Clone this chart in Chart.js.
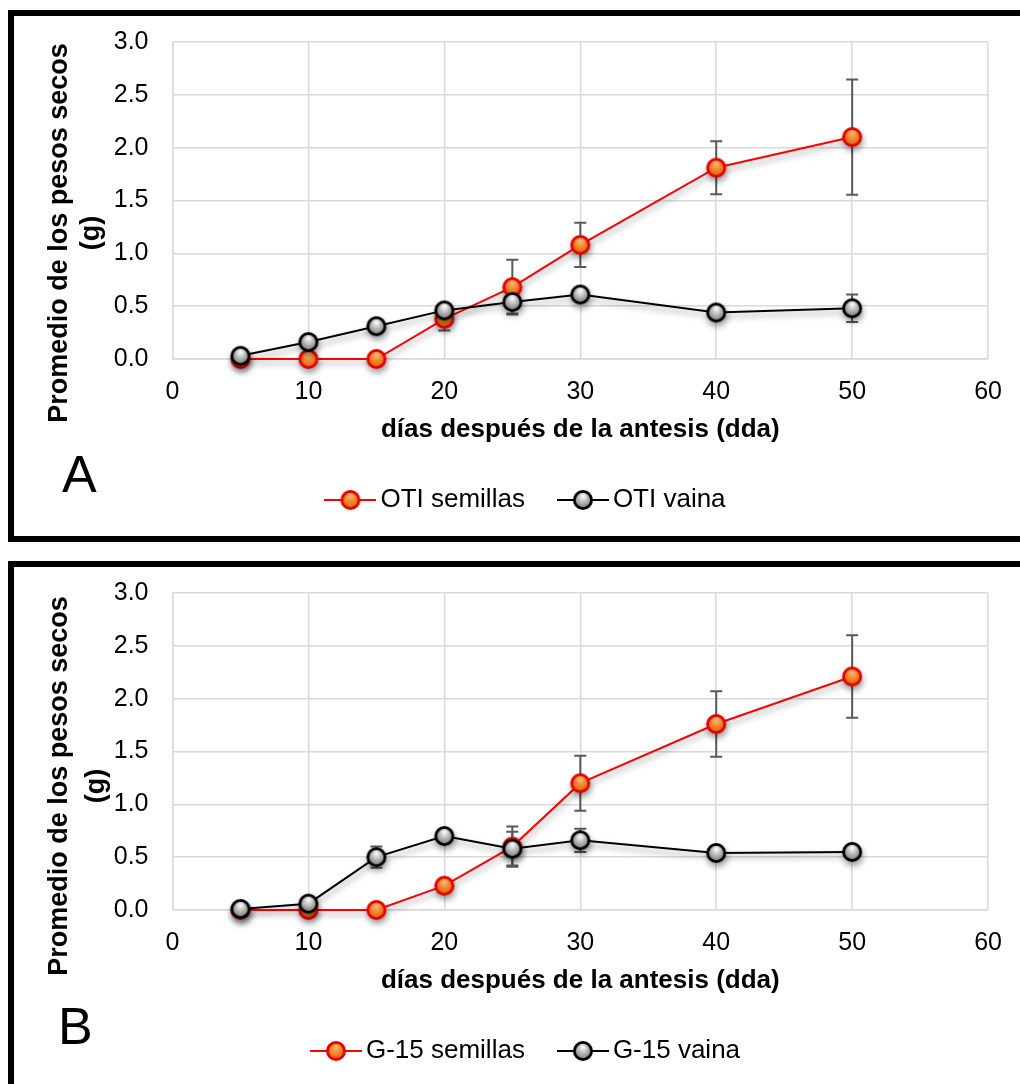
<!DOCTYPE html>
<html>
<head>
<meta charset="utf-8">
<script src="https://cdn.jsdelivr.net/npm/chart.js@4.4.1/dist/chart.umd.min.js"></script>
<style>
  html, body { margin: 0; padding: 0; background: #fff; }
  body { width: 1020px; height: 1084px; overflow: hidden; position: relative; font-family: "Liberation Sans", Arial, sans-serif; }
  .marco { position: absolute; left: 8px; width: 1100px; border: 6px solid #000; box-sizing: border-box; }
  #marcoA { top: 10px; height: 532px; }
  #marcoB { top: 561px; height: 600px; }
  canvas { position: absolute; left: 0; }
  #chartA { top: 0; }
  #chartB { top: 551px; }
  .letra { position: absolute; font-size: 52px; line-height: 52px; color: #000; }
</style>
</head>
<body>
<div class="marco" id="marcoA"></div>
<div class="marco" id="marcoB"></div>
<canvas id="chartA" width="1020" height="540"></canvas>
<canvas id="chartB" width="1020" height="540"></canvas>
<div class="letra" style="left:62px; top:448px;">A</div>
<div class="letra" style="left:58px; top:1000px;">B</div>
<script>
// dias despues de la antesis
let dias = [5, 10, 15, 20, 25, 30, 40, 50];

// panel A (OTI)
let oti_semillas = [0, 0, 0, 0.38, 0.68, 1.08, 1.81, 2.10];
let oti_semillas_err = [0, 0, 0, 0.11, 0.26, 0.21, 0.25, 0.545];
let oti_vaina = [0.03, 0.16, 0.31, 0.46, 0.54, 0.61, 0.44, 0.48];
let oti_vaina_err = [0, 0, 0, 0, 0.11, 0, 0, 0.13];

// panel B (G-15)
let g15_semillas = [0, 0, 0, 0.23, 0.60, 1.20, 1.76, 2.21];
let g15_semillas_err = [0, 0, 0, 0, 0.19, 0.26, 0.31, 0.39];
let g15_vaina = [0.01, 0.06, 0.50, 0.70, 0.58, 0.66, 0.54, 0.55];
let g15_vaina_err = [0, 0, 0.1, 0, 0.16, 0.11, 0, 0];

// ejes
let x_ticks = [0, 10, 20, 30, 40, 50, 60];
let y_ticks = [0, 0.5, 1, 1.5, 2, 2.5, 3];
let titulo_x = 'días después de la antesis (dda)';
let titulo_y = ['Promedio de los pesos secos', '(g)'];

let fuente = '"Liberation Sans", Arial, sans-serif';
Chart.defaults.font.family = fuente;
Chart.defaults.color = '#000';

// marcador tipo esfera (estilo excel)
function esfera(claro, medio, oscuro, borde) {
  let c = document.createElement('canvas');
  c.width = 24; c.height = 24;
  let ctx = c.getContext('2d');
  let g = ctx.createRadialGradient(12, 8, 1, 12, 12, 11);
  g.addColorStop(0, claro);
  g.addColorStop(0.5, medio);
  g.addColorStop(1, oscuro);
  ctx.beginPath();
  ctx.arc(12, 12, 8.6, 0, Math.PI * 2);
  ctx.fillStyle = g;
  ctx.fill();
  ctx.lineWidth = 2.8;
  ctx.strokeStyle = borde;
  ctx.stroke();
  return c;
}

// linea + marcador para la leyenda
function marcaLeyenda(punto, color) {
  let c = document.createElement('canvas');
  c.width = 52; c.height = 24;
  let ctx = c.getContext('2d');
  ctx.strokeStyle = color;
  ctx.lineWidth = 2;
  ctx.beginPath();
  ctx.moveTo(0, 12);
  ctx.lineTo(52, 12);
  ctx.stroke();
  ctx.drawImage(punto, 14, 0);
  return c;
}

let punto_naranja = esfera('#f8b272', '#f07c20', '#c85300', '#e60000');
let punto_gris = esfera('#f5f5f5', '#a8a8a8', '#5e5e5e', '#000000');
let leyenda_naranja = marcaLeyenda(punto_naranja, '#ff0000');
let leyenda_gris = marcaLeyenda(punto_gris, '#000000');

// barras de error, sombra y titulo vertical
let efectos = {
  id: 'efectos',
  beforeDatasetsDraw(chart) {
    let ctx = chart.ctx;
    let sx = chart.scales.x, sy = chart.scales.y;
    ctx.save();
    ctx.strokeStyle = '#595959';
    ctx.lineWidth = 2;
    chart.data.datasets.forEach(ds => {
      ds.errores.forEach((e, i) => {
        if (!e) return;
        let px = sx.getPixelForValue(ds.data[i].x);
        let arriba = sy.getPixelForValue(ds.data[i].y + e);
        let abajo = sy.getPixelForValue(ds.data[i].y - e);
        ctx.beginPath();
        ctx.moveTo(px, arriba); ctx.lineTo(px, abajo);
        ctx.moveTo(px - 6, arriba); ctx.lineTo(px + 6, arriba);
        ctx.moveTo(px - 6, abajo); ctx.lineTo(px + 6, abajo);
        ctx.stroke();
      });
    });
    ctx.restore();
    ctx.save();
    ctx.shadowColor = 'rgba(0,0,0,0.4)';
    ctx.shadowBlur = 6;
    ctx.shadowOffsetX = 1;
    ctx.shadowOffsetY = 4;
  },
  afterDatasetsDraw(chart) {
    chart.ctx.restore();
  },
  afterDraw(chart, args, opts) {
    let ctx = chart.ctx;
    ctx.save();
    ctx.font = 'bold 27px ' + fuente;
    ctx.fillStyle = '#000';
    ctx.textAlign = 'center';
    ctx.textBaseline = 'alphabetic';
    opts.texto.forEach((t, i) => {
      ctx.save();
      ctx.translate(opts.x[i], opts.y);
      ctx.rotate(-Math.PI / 2);
      ctx.fillText(t, 0, 0);
      ctx.restore();
    });
    ctx.restore();
  }
};

function puntos(valores) {
  return dias.map((d, i) => ({ x: d, y: valores[i] }));
}

function draw_chart(id, nombres, semillas, semillas_err, vaina, vaina_err, titulo_pos) {
  let my_datasets = [
    {
      label: nombres[0],
      data: puntos(semillas),
      errores: semillas_err,
      borderColor: '#ff0000',
      borderWidth: 2,
      pointStyle: punto_naranja,
      pointRadius: 10,
      order: 1,
      clip: false,
      leyenda: leyenda_naranja
    },
    {
      label: nombres[1],
      data: puntos(vaina),
      errores: vaina_err,
      borderColor: '#000000',
      borderWidth: 2,
      pointStyle: punto_gris,
      pointRadius: 10,
      order: 0,
      clip: false,
      leyenda: leyenda_gris
    }
  ];

  return new Chart(document.getElementById(id).getContext('2d'), {
    type: 'line',
    data: { datasets: my_datasets },
    plugins: [efectos],
    options: {
      responsive: false,
      animation: false,
      layout: { padding: { left: 67.5, right: 28.5, top: 42, bottom: 17 } },
      scales: {
        x: {
          type: 'linear',
          min: 0,
          max: 60,
          afterBuildTicks: s => { s.ticks = x_ticks.map(v => ({ value: v })); },
          afterFit: s => { s.height = 87; },
          grid: { color: '#d9d9d9', lineWidth: 1.5, drawTicks: false },
          border: { color: '#d9d9d9', width: 1.5 },
          ticks: { font: { size: 25 }, padding: 18, color: '#000' },
          title: {
            display: true,
            text: titulo_x,
            font: { size: 26, weight: 'bold' },
            padding: { top: 0, bottom: 1 },
            color: '#000'
          }
        },
        y: {
          min: 0,
          max: 3,
          afterBuildTicks: s => { s.ticks = y_ticks.map(v => ({ value: v })); },
          afterFit: s => { s.width = 105; },
          grid: { color: '#d9d9d9', lineWidth: 1.5, drawTicks: false },
          border: { color: '#d9d9d9', width: 1.5 },
          ticks: {
            font: { size: 25 },
            padding: 24,
            color: '#000',
            callback: v => v.toFixed(1)
          }
        }
      },
      plugins: {
        tooltip: { enabled: false },
        efectos: { texto: titulo_y, x: titulo_pos.x, y: titulo_pos.y },
        legend: {
          position: 'bottom',
          labels: {
            font: { size: 26 },
            color: '#000',
            usePointStyle: true,
            pointStyleWidth: 34,
            padding: 41,
            generateLabels: function(chart) {
              return chart.data.datasets.map((ds, i) => ({
                text: ds.label,
                pointStyle: ds.leyenda,
                datasetIndex: i,
                hidden: false,
                lineWidth: 0,
                fontColor: '#000'
              }));
            }
          }
        }
      }
    }
  });
}

draw_chart('chartA', ['OTI semillas', 'OTI vaina'], oti_semillas, oti_semillas_err, oti_vaina, oti_vaina_err, { x: [67, 99], y: 233 });
draw_chart('chartB', ['G-15 semillas', 'G-15 vaina'], g15_semillas, g15_semillas_err, g15_vaina, g15_vaina_err, { x: [67, 104], y: 235 });
</script>
</body>
</html>
